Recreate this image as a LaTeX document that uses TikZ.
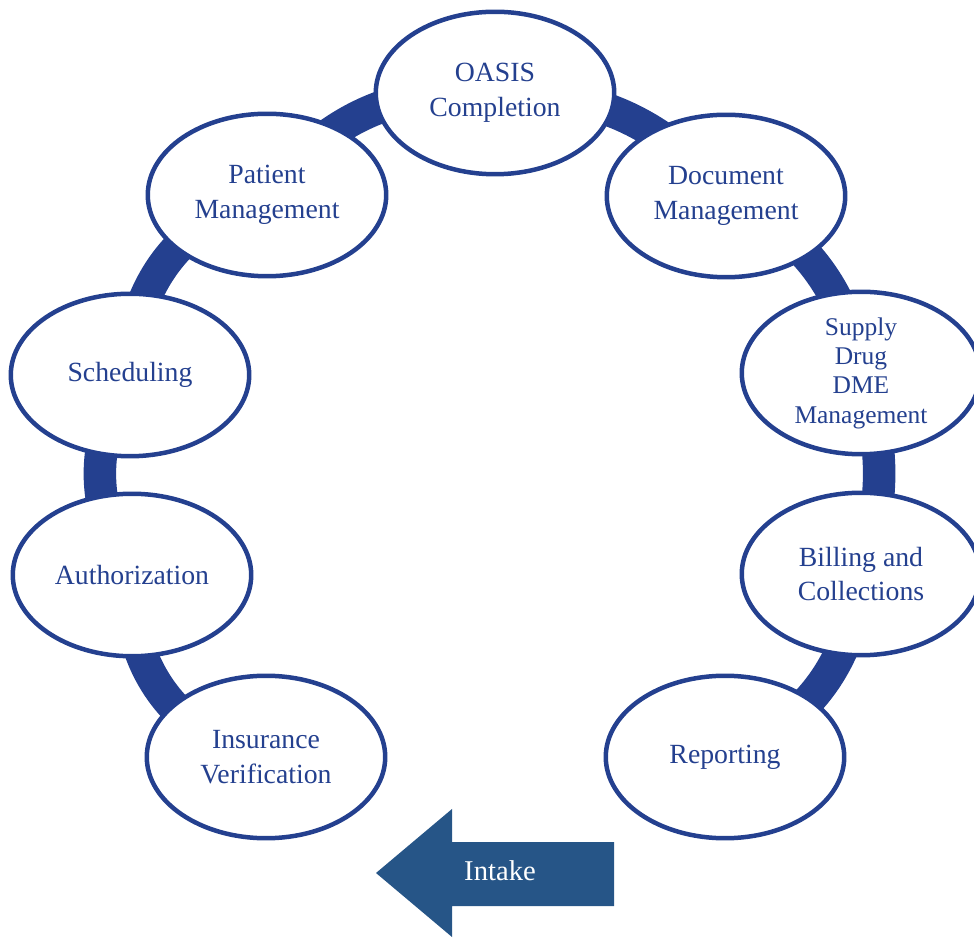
\documentclass[tikz,border=0pt]{standalone}
\usepackage{fontspec}
\setmainfont{Liberation Serif}
\usetikzlibrary{shapes.geometric,backgrounds}
\definecolor{ringblue}{RGB}{36,64,143}
\definecolor{intakeblue}{RGB}{38,85,135}
\tikzset{
  stage/.style={ellipse,draw=ringblue,line width=0.09cm,fill=white,text=ringblue,
    minimum width=4.77cm,minimum height=3.25cm,inner sep=0pt,align=center,
    font=\fontsize{15.8}{19.8}\selectfont},
  link/.style={draw=ringblue,line width=0.65cm}
}
\begin{document}
\begin{tikzpicture}[x=0.02cm,y=0.02cm]
		\useasboundingbox (0,0) rectangle (974,937);
		\clip (0,0) rectangle (974,937);
		\node[stage] (oasis) at (495,844) {OASIS\\Completion};
		\node[stage] (docmgmt) at (726,741) {Document\\Management};
		\node[stage,font=\fontsize{14.5}{16.7}\selectfont] (supply) at (861,564) {Supply\\Drug\\DME\\Management};
		\node[stage] (billing) at (861,363) {Billing and\\Collections};
		\node[stage] (report) at (725,180) {Reporting};
		\node[stage] (insur) at (266,180) {Insurance\\Verification};
		\node[stage] (auth) at (132,362) {Authorization};
		\node[stage] (sched) at (130,562) {Scheduling};
		\node[stage] (patient) at (267,742) {Patient\\Management};
		\begin{scope}[on background layer]
		\draw[link] (insur.center) to[bend left=43] (auth.center);
		\draw[link] (auth.center) to[bend left=32] (sched.center);
		\draw[link] (sched.center) to[bend left=37] (patient.center);
		\draw[link] (patient.center) to[bend left=28] (oasis.center);
		\draw[link] (oasis.center) to[bend left=25] (docmgmt.center);
		\draw[link] (docmgmt.center) to[bend left=26] (supply.center);
		\draw[link] (supply.center) to[bend left=18] (billing.center);
		\draw[link] (billing.center) to[bend left=31] (report.center);
		\end{scope}
		\fill[intakeblue] (376,64) -- (452,128) -- (452,95) -- (614,95) -- (614,31) -- (452,31) -- (452,0) -- cycle;
		\node[text=white,font=\fontsize{16.3}{19}\selectfont] (intake) at (500,66) {Intake};
\end{tikzpicture}
\end{document}
